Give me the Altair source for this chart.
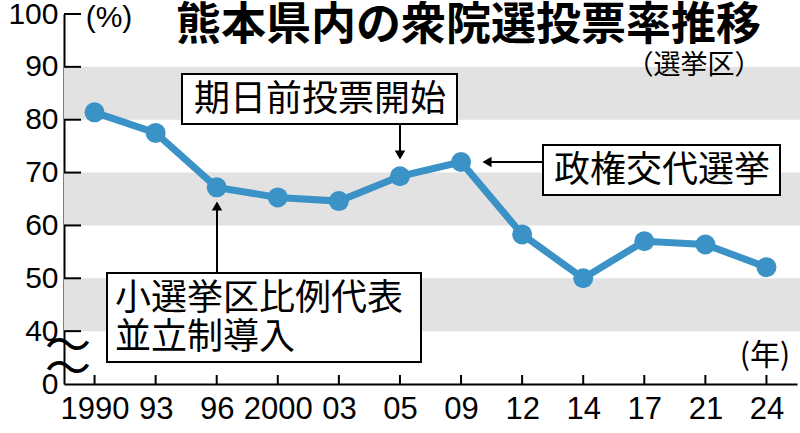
import altair as alt
import pandas as pd

years = ["1990", "93", "96", "2000", "03", "05", "09", "12", "14", "17", "21", "24"]
turnout = [81.4, 77.5, 67.2, 65.3, 64.6, 69.3, 72.0, 58.3, 50.0, 57.0, 56.4, 52.1]
band_lo = [40, 60, 80]
band_hi = [50, 70, 90]
ytick_vals = [40, 50, 60, 70, 80, 90, 100]
yaxis_vals = [30, 40, 50, 60, 70, 80, 90, 100]

title = "熊本県内の衆院選投票率推移"
subtitle = "（選挙区）"
note1 = "期日前投票開始"
note2 = "政権交代選挙"
note3 = ["小選挙区比例代表", "並立制導入"]

W, H = 733, 370
NUM = "Liberation Sans Narrow, Liberation Sans, sans-serif"
JP = "Noto Sans CJK JP"
BLUE = "#3a92c6"

df = pd.DataFrame({"year": years, "v": turnout})
bands = pd.DataFrame({"lo": band_lo, "hi": band_hi})
yt = pd.DataFrame({"v": ytick_vals})

xs = alt.Scale(domain=years, type="point", padding=0.5)
ys = alt.Scale(domain=[30, 100], zero=False, nice=False)

base = alt.Chart(df)

band_layer = alt.Chart(bands).mark_rect(color="#e2e2e2").encode(
    y=alt.Y("lo:Q", scale=ys), y2="hi:Q",
    x=alt.value(0), x2=alt.value(W + 3),
)

ytick_layer = alt.Chart(yt).mark_rule(color="black", strokeWidth=2).encode(
    y=alt.Y("v:Q", scale=ys), x=alt.value(0), x2=alt.value(17),
)

xtick_layer = base.mark_rule(color="black", strokeWidth=2).encode(
    x=alt.X("year:N", scale=xs, sort=years), y=alt.value(H - 9), y2=alt.value(H),
)

line = base.mark_line(color=BLUE, strokeWidth=7).encode(
    x=alt.X("year:N", scale=xs, sort=years,
            axis=alt.Axis(title=None, labelAngle=0, labelAlign="center", labelBaseline="top",
                          ticks=False, domainColor="black",
                          domainWidth=2, labelFont=NUM, labelFontSize=31,
                          labelColor="black", labelPadding=10, grid=False)),
    y=alt.Y("v:Q", scale=ys,
            axis=alt.Axis(title=None, values=yaxis_vals, ticks=False, domainColor="black",
                          domainWidth=2, labelFont=NUM, labelFontSize=30,
                          labelColor="black", labelPadding=6, grid=False,
                          labelExpr="datum.value == 30 ? '0' : datum.label")),
)
pts = base.mark_circle(color=BLUE, size=400, opacity=1).encode(
    x=alt.X("year:N", scale=xs, sort=years), y=alt.Y("v:Q", scale=ys),
)

def txt(text, x, y, size, align="center", weight="normal", font=JP, baseline="middle"):
    return alt.Chart(pd.DataFrame({"t": [text]})).mark_text(
        align=align, baseline=baseline, fontSize=size, font=font, fontWeight=weight,
        color="black",
    ).encode(text="t:N", x=alt.value(x), y=alt.value(y))

def box(x1, x2, y1, y2):
    return alt.Chart(pd.DataFrame({"a": [0]})).mark_rect(
        fill="white", stroke="black", strokeWidth=2
    ).encode(x=alt.value(x1), x2=alt.value(x2), y=alt.value(y1), y2=alt.value(y2))

def seg(x1, x2, y1, y2):
    return alt.Chart(pd.DataFrame({"a": [0]})).mark_rule(color="black", strokeWidth=2).encode(
        x=alt.value(x1), x2=alt.value(x2), y=alt.value(y1), y2=alt.value(y2))

def head(x, y, shape):
    return alt.Chart(pd.DataFrame({"a": [0]})).mark_point(
        shape=shape, filled=True, color="black", size=110, opacity=1
    ).encode(x=alt.value(x), y=alt.value(y))

annots = [
    # box 1
    seg(336, 336, 110, 140), head(336, 141, "triangle-down"),
    box(118, 393, 60, 110), txt(note1, 256, 86, 36),
    # box 2
    seg(424, 479, 148, 148), head(423, 148, "triangle-left"),
    box(479, 716, 131, 181), txt(note2, 598, 157, 36),
    # box 3
    seg(153, 153, 192, 259), head(153, 192, "triangle-up"),
    box(43, 357, 259, 348), txt(note3[0], 51, 285, 36, align="left"),
    txt(note3[1], 51, 324, 36, align="left"),
    # texts
    txt(title, 697, 12, 45, align="right", weight="bold"),
    txt(subtitle, 630, 52, 27),
    txt("(%)", 45, 4, 30, font=NUM),
    txt("(年)", 701, 342, 30),
    txt("〜", 4, 333, 46),
    txt("〜", 4, 356, 46),
]

chart = alt.layer(band_layer, ytick_layer, xtick_layer, line, pts, *annots).properties(
    width=W, height=H,
    autosize=alt.AutoSizeParams(type="none"),
    padding={"left": 64, "top": 14, "right": 3, "bottom": 49},
    background="white",
).configure_view(stroke=None)

chart.save("out.html", embed_options={"renderer": "svg", "actions": False})
